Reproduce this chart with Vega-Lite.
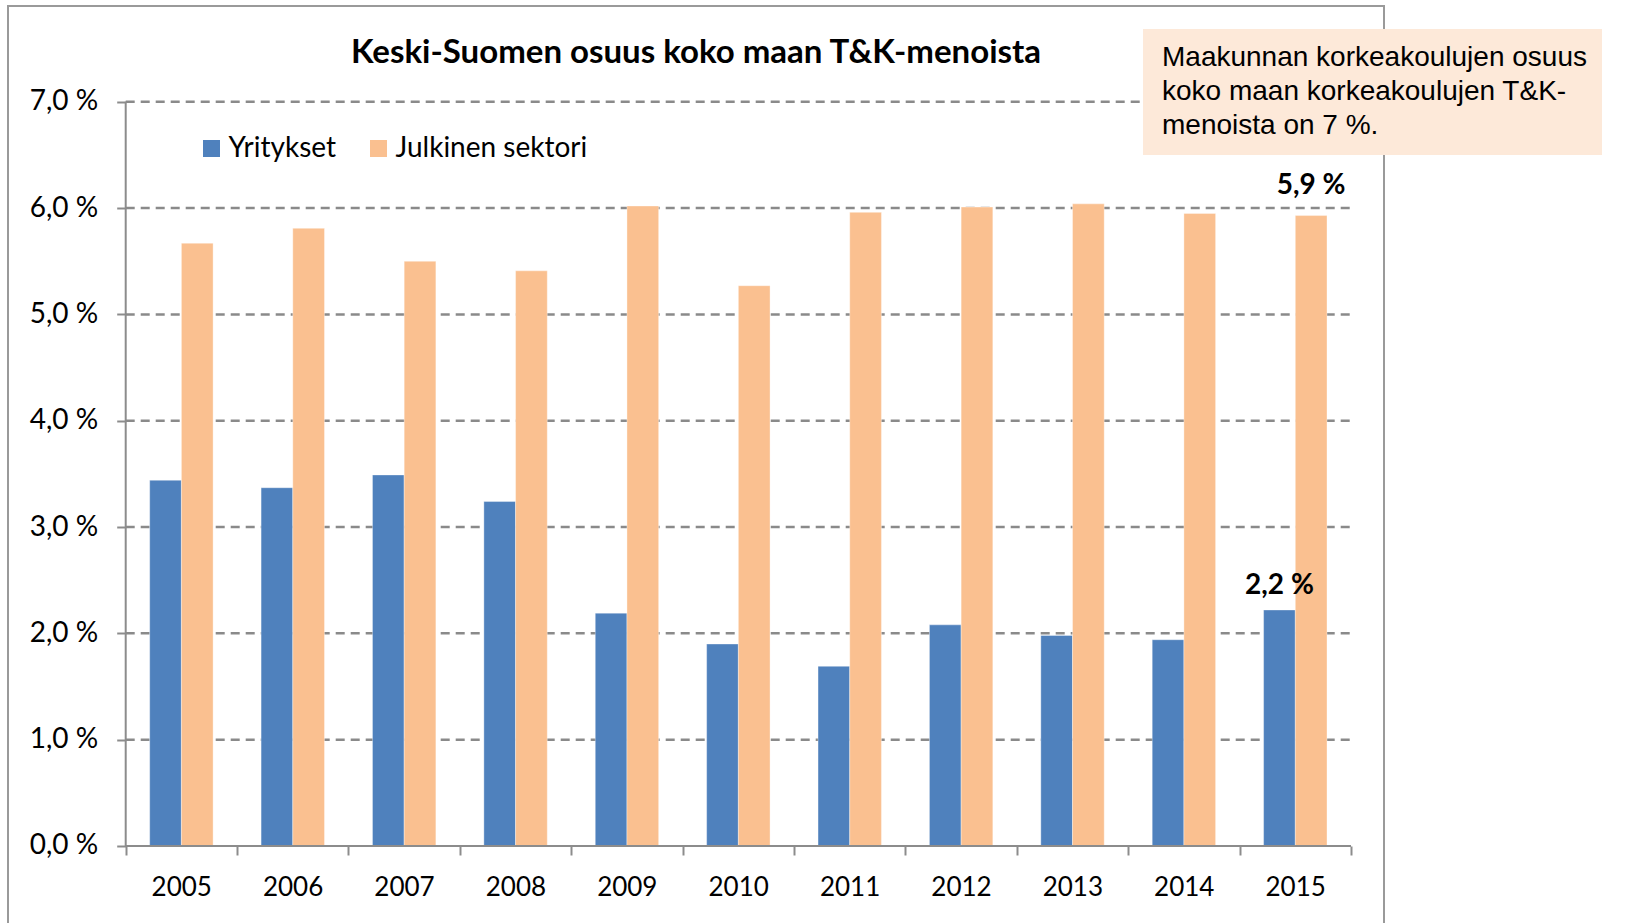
{
  "$schema": "https://vega.github.io/schema/vega-lite/v6.json",
  "width": 1376,
  "height": 919,
  "autosize": {"type": "none"},
  "padding": {"left": 8, "top": 6, "right": 245, "bottom": -2},
  "background": "white",
  "title": {
    "text": "Keski-Suomen osuus koko maan T&K-menoista",
    "font": "Lato", "fontSize": 33, "fontWeight": "bold", "color": "#000000",
    "anchor": "middle", "frame": "group", "baseline": "alphabetic", "offset": 0, "dy": 90
  },
  "datasets": {
    "main": [
      {"year": "2005", "series": "Yritykset", "value": 3.44},
      {"year": "2006", "series": "Yritykset", "value": 3.37},
      {"year": "2007", "series": "Yritykset", "value": 3.49},
      {"year": "2008", "series": "Yritykset", "value": 3.24},
      {"year": "2009", "series": "Yritykset", "value": 2.19},
      {"year": "2010", "series": "Yritykset", "value": 1.90},
      {"year": "2011", "series": "Yritykset", "value": 1.69},
      {"year": "2012", "series": "Yritykset", "value": 2.08},
      {"year": "2013", "series": "Yritykset", "value": 1.98},
      {"year": "2014", "series": "Yritykset", "value": 1.94},
      {"year": "2015", "series": "Yritykset", "value": 2.22},
      {"year": "2005", "series": "Julkinen sektori", "value": 5.67},
      {"year": "2006", "series": "Julkinen sektori", "value": 5.81},
      {"year": "2007", "series": "Julkinen sektori", "value": 5.50},
      {"year": "2008", "series": "Julkinen sektori", "value": 5.41},
      {"year": "2009", "series": "Julkinen sektori", "value": 6.02},
      {"year": "2010", "series": "Julkinen sektori", "value": 5.27},
      {"year": "2011", "series": "Julkinen sektori", "value": 5.96},
      {"year": "2012", "series": "Julkinen sektori", "value": 6.01},
      {"year": "2013", "series": "Julkinen sektori", "value": 6.04},
      {"year": "2014", "series": "Julkinen sektori", "value": 5.95},
      {"year": "2015", "series": "Julkinen sektori", "value": 5.93}
    ],
    "grid": [{"g": 1}, {"g": 2}, {"g": 3}, {"g": 4}, {"g": 5}, {"g": 6}, {"g": 7}],
    "note": [
      {"line": "Maakunnan korkeakoulujen osuus"},
      {"line": "koko maan korkeakoulujen T&K-"},
      {"line": "menoista on 7 %."}
    ]
  },
  "layer": [
    {
      "data": {"name": "grid"},
      "mark": {"type": "rule", "color": "#8a8a8a", "strokeWidth": 2.5, "strokeDash": [9, 6]},
      "encoding": {
        "y": {"field": "g", "type": "quantitative"},
        "x": {"datum": "2005", "type": "nominal", "bandPosition": 0},
        "x2": {"datum": "2015", "bandPosition": 1}
      }
    },
    {
      "data": {"name": "main"},
      "mark": {"type": "bar", "stroke": "white", "strokeOpacity": 0.35, "strokeWidth": 1},
      "encoding": {
        "x": {
          "field": "year", "type": "nominal",
          "scale": {"paddingInner": 0, "paddingOuter": 0.6765, "align": 0.781},
          "axis": {
            "title": null, "offset": -79, "domain": false, "grid": false,
            "tickBand": "extent", "tickSize": 9, "tickColor": "#8c8c8c", "tickWidth": 2,
            "labelAngle": 0, "labelFont": "Lato", "labelFontSize": 26, "labelColor": "#000000",
            "labelPadding": 32, "labelOffset": 30
          }
        },
        "xOffset": {
          "field": "series", "type": "nominal", "sort": ["Yritykset", "Julkinen sektori"],
          "scale": {"paddingInner": 0, "paddingOuter": 0.757}
        },
        "y": {
          "field": "value", "type": "quantitative",
          "scale": {"domain": [-0.7431, 7.9011], "nice": false, "zero": false},
          "axis": {
            "title": null, "offset": -117.7, "domain": false, "grid": false,
            "values": [0, 1, 2, 3, 4, 5, 6, 7],
            "tickSize": 9, "tickColor": "#8c8c8c", "tickWidth": 2,
            "labelFont": "Lato", "labelFontSize": 28, "labelColor": "#000000", "labelPadding": 19,
            "labelExpr": "replace(format(datum.value, '.1f'), '.', ',') + ' %'"
          }
        },
        "color": {
          "field": "series", "type": "nominal", "sort": ["Yritykset", "Julkinen sektori"],
          "scale": {"domain": ["Yritykset", "Julkinen sektori"], "range": ["#4F81BD", "#FAC090"]},
          "legend": {
            "orient": "none", "legendX": 189.5, "legendY": 128.5, "direction": "horizontal",
            "title": null, "symbolType": "square", "symbolSize": 289, "symbolStrokeWidth": 0,
            "labelFont": "Lato", "labelFontSize": 28, "labelColor": "#000000", "labelOffset": 3,
            "labelLimit": 500, "columnPadding": 28, "padding": 0
          }
        }
      }
    },
    {
      "data": {"values": [{}]},
      "mark": {"type": "rule", "color": "#8c8c8c", "strokeWidth": 2},
      "encoding": {
        "y": {"datum": 0, "type": "quantitative"},
        "x": {"datum": "2005", "type": "nominal", "bandPosition": 0},
        "x2": {"datum": "2015", "bandPosition": 1}
      }
    },
    {
      "data": {"values": [{}]},
      "mark": {"type": "rule", "color": "#8c8c8c", "strokeWidth": 2},
      "encoding": {
        "x": {"datum": "2005", "type": "nominal", "bandPosition": 0},
        "y": {"datum": 0, "type": "quantitative"},
        "y2": {"datum": 7}
      }
    },
    {
      "data": {"name": "main"},
      "transform": [
        {"filter": "datum.year == '2015' && datum.series == 'Julkinen sektori'"},
        {"calculate": "replace(format(datum.value, '.1f'), '.', ',') + ' %'", "as": "label"}
      ],
      "mark": {"type": "text", "font": "Lato", "fontSize": 28, "fontWeight": "bold", "color": "#000000", "baseline": "alphabetic", "dy": -22},
      "encoding": {
        "x": {"field": "year", "type": "nominal"},
        "xOffset": {"field": "series", "type": "nominal", "sort": ["Yritykset", "Julkinen sektori"]},
        "y": {"field": "value", "type": "quantitative"},
        "text": {"field": "label"}
      }
    },
    {
      "data": {"name": "main"},
      "transform": [
        {"filter": "datum.year == '2015' && datum.series == 'Yritykset'"},
        {"calculate": "replace(format(datum.value, '.1f'), '.', ',') + ' %'", "as": "label"}
      ],
      "mark": {"type": "text", "font": "Lato", "fontSize": 28, "fontWeight": "bold", "color": "#000000", "baseline": "alphabetic", "dy": -16},
      "encoding": {
        "x": {"field": "year", "type": "nominal"},
        "xOffset": {"field": "series", "type": "nominal", "sort": ["Yritykset", "Julkinen sektori"]},
        "y": {"field": "value", "type": "quantitative"},
        "text": {"field": "label"}
      }
    },
    {
      "data": {"name": "note"},
      "mark": {"type": "point", "opacity": 0},
      "encoding": {
        "shape": {
          "field": "line", "type": "nominal",
          "sort": ["Maakunnan korkeakoulujen osuus", "koko maan korkeakoulujen T&K-", "menoista on 7 %."],
          "legend": {
            "orient": "none", "legendX": 1135, "legendY": 23, "direction": "vertical",
            "title": null, "fillColor": "#FDE9D9", "padding": 15,
            "symbolSize": 0, "symbolOpacity": 0, "symbolStrokeWidth": 0, "labelOffset": -24,
            "labelFont": "Liberation Sans", "labelFontSize": 28, "labelColor": "#000000",
            "labelLimit": 800, "rowPadding": 6
          }
        }
      }
    }
  ],
  "config": {
    "view": {"stroke": "#9a9a9a", "strokeWidth": 2},
    "font": "Lato"
  }
}
